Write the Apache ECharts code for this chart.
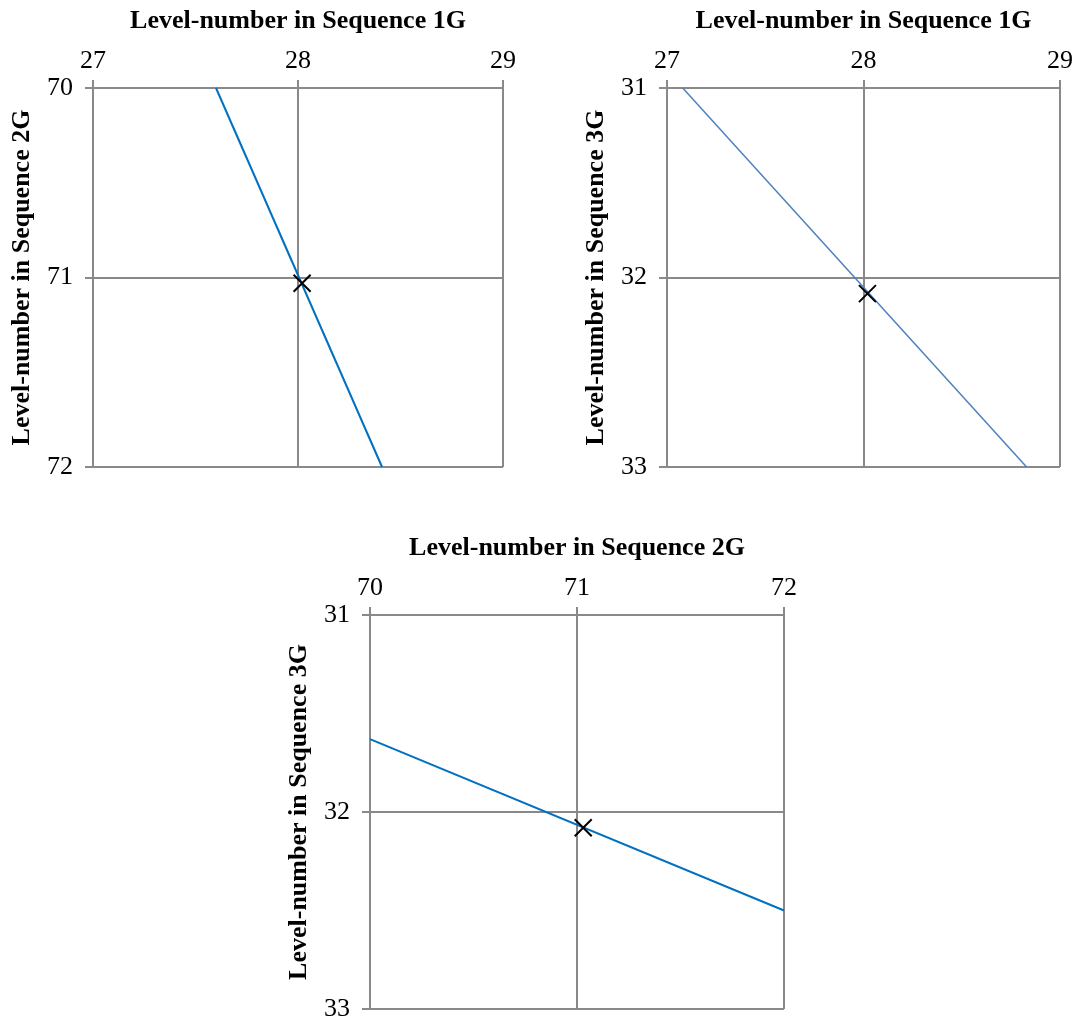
<!DOCTYPE html>
<html>
<head>
<meta charset="utf-8">
<script src="https://cdn.jsdelivr.net/npm/echarts@6/dist/echarts.min.js"></script>
<style>
html,body{margin:0;padding:0;background:#fff;}
#c{width:1080px;height:1022px;}
</style>
</head>
<body>
<div id="c"></div>
<script>
// ---- data ----
const xTitles = ['Level-number in Sequence 1G', 'Level-number in Sequence 1G', 'Level-number in Sequence 2G'];
const yTitles = ['Level-number in Sequence 2G', 'Level-number in Sequence 3G', 'Level-number in Sequence 3G'];
const xTicks1 = [27, 28, 29];
const yTicks1 = [70, 71, 72];
const xTicks2 = [27, 28, 29];
const yTicks2 = [31, 32, 33];
const xTicks3 = [70, 71, 72];
const yTicks3 = [31, 32, 33];
// line end points
const line1X = [27.60, 28.41];
const line1Y = [70, 72];
const line2X = [27.08, 28.83];
const line2Y = [31, 33];
const line3X = [70, 72];
const line3Y = [31.63, 32.50];
// intersection markers
const mark1 = [28.02, 71.03];
const mark2 = [28.02, 32.085];
const mark3 = [71.03, 32.08];

const lineColors = ['#0070C0', '#4F81BD', '#0070C0'];
const lineWidths = [2, 1.5, 2];

const grids = [
  {left: 93, top: 88, width: 410, height: 379},
  {left: 667, top: 88, width: 393, height: 379},
  {left: 370, top: 615, width: 414, height: 396}
];

const gray = '#898989';
const font = '"Liberation Serif", "Times New Roman", serif';

function xAxis(i, ticks) {
  return {
    gridIndex: i, type: 'value', position: 'top',
    min: ticks[0], max: ticks[ticks.length - 1], interval: ticks[1] - ticks[0],
    name: xTitles[i], nameLocation: 'middle', nameGap: 54,
    nameTextStyle: {fontFamily: font, fontWeight: 'bold', fontSize: 26, color: '#000'},
    axisLine: {show: true, lineStyle: {color: gray, width: 2}},
    axisTick: {show: true, length: 8, lineStyle: {color: gray, width: 2}},
    axisLabel: {fontFamily: font, fontSize: 26, color: '#000', margin: 14},
    splitLine: {show: true, lineStyle: {color: gray, width: 2}}
  };
}
function yAxis(i, ticks) {
  return {
    gridIndex: i, type: 'value', inverse: true,
    min: ticks[0], max: ticks[ticks.length - 1], interval: ticks[1] - ticks[0],
    name: yTitles[i], nameLocation: 'middle', nameGap: 58, nameRotate: 90,
    nameTextStyle: {fontFamily: font, fontWeight: 'bold', fontSize: 26, color: '#000'},
    axisLine: {show: true, lineStyle: {color: gray, width: 2}},
    axisTick: {show: true, length: 8, lineStyle: {color: gray, width: 2}},
    axisLabel: {fontFamily: font, fontSize: 26, color: '#000', margin: 20},
    splitLine: {show: true, lineStyle: {color: gray, width: 2}}
  };
}
function zip(a, b) { return a.map((v, k) => [v, b[k]]); }

const lines = [zip(line1X, line1Y), zip(line2X, line2Y), zip(line3X, line3Y)];
const marks = [mark1, mark2, mark3];

const series = [];
for (let i = 0; i < 3; i++) {
  series.push({
    type: 'line', xAxisIndex: i, yAxisIndex: i, data: lines[i],
    symbol: 'none', clip: false,
    lineStyle: {color: lineColors[i], width: lineWidths[i]}, z: 3
  });
  series.push({
    type: 'scatter', xAxisIndex: i, yAxisIndex: i, data: [marks[i]],
    symbol: 'path://M0,0L10,10M0,10L10,0', symbolSize: 17,
    itemStyle: {color: 'rgba(0,0,0,0)', borderColor: '#000', borderWidth: 2, opacity: 1}, z: 4
  });
}

const chart = echarts.init(document.getElementById('c'), null, {renderer: 'canvas'});
chart.setOption({
  animation: false,
  backgroundColor: '#fff',
  grid: grids,
  xAxis: [xAxis(0, xTicks1), xAxis(1, xTicks2), xAxis(2, xTicks3)],
  yAxis: [yAxis(0, yTicks1), yAxis(1, yTicks2), yAxis(2, yTicks3)],
  series: series
});
</script>
</body>
</html>
